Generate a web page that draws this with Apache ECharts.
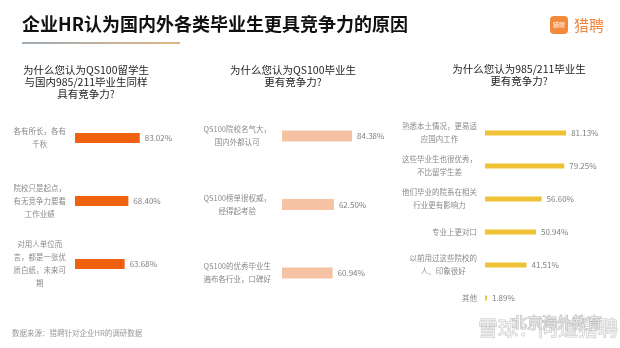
<!DOCTYPE html>
<html>
<head>
<meta charset="utf-8">
<script src="https://cdn.jsdelivr.net/npm/echarts@6/dist/echarts.min.js"></script>
<style>html,body{margin:0;padding:0;background:#fff}#c{width:620px;height:348px}</style>
</head>
<body>
<div id="c"></div>
<script>
const mainTitle = '企业HR认为国内外各类毕业生更具竞争力的原因';
const footNote = '数据来源：猎聘针对企业HR的调研数据';

const sub1 = '为什么您认为QS100留学生\n与国内985/211毕业生同样\n具有竞争力?';
const cats1 = ['各有所长，各有\n千秋', '院校只是起点，\n有无竞争力要看\n工作业绩', '对用人单位而\n言，都是一张优\n质白纸，未来可\n期'];
const vals1 = [83.02, 68.40, 63.68];

const sub2 = '为什么您认为QS100毕业生\n更有竞争力?';
const cats2 = ['QS100院校名气大，\n国内外都认可', 'QS100榜单很权威，\n经得起考验', 'QS100的优秀毕业生\n遍布各行业，口碑好'];
const vals2 = [84.38, 62.50, 60.94];

const sub3 = '为什么您认为985/211毕业生\n更有竞争力?';
const cats3 = ['熟悉本土情况，更易适\n应国内工作', '这些毕业生也很优秀，\n不比留学生差', '他们毕业的院系在相关\n行业更有影响力', '专业上更对口', '以前用过这些院校的\n人、印象很好', '其他'];
const vals3 = [81.13, 79.25, 56.60, 50.94, 41.51, 1.89];

const FONT = '"Noto Sans CJK SC", "Noto Sans", sans-serif';
const chart = echarts.init(document.getElementById('c'), null, {renderer: 'canvas'});

const panels = [
  {cats: cats1, vals: vals1, color: '#f0620f', grid: {left: 75, top: 106.5, width: 78, height: 189}, barWidth: 10, margin: 9},
  {cats: cats2, vals: vals2, color: '#f5c3a4', grid: {left: 282, top: 101.75, width: 83, height: 205.5}, barWidth: 11, margin: 11},
  {cats: cats3, vals: vals3, color: '#efc236', grid: {left: 485, top: 116.5, width: 100, height: 198}, barWidth: 5, margin: 8}
];

const labelFmt = v => v.split('\n').map(s => '{c|' + s + '}').join('\n');

const option = {
  animation: false,
  textStyle: {fontFamily: FONT},
  grid: panels.map(p => Object.assign({containLabel: false}, p.grid)),
  xAxis: panels.map((p, i) => ({type: 'value', gridIndex: i, min: 0, max: 100, show: false})),
  yAxis: panels.map((p, i) => ({
    type: 'category', gridIndex: i, data: p.cats, inverse: true,
    axisLine: {show: false}, axisTick: {show: false}, splitLine: {show: false},
    axisLabel: {
      interval: 0, margin: p.margin, align: 'right', formatter: labelFmt,
      rich: {c: {align: 'center', fontSize: 7.5, lineHeight: 13, color: '#8a8a8a', fontFamily: FONT}}
    }
  })),
  series: panels.map((p, i) => ({
    type: 'bar', xAxisIndex: i, yAxisIndex: i, data: p.vals, barWidth: p.barWidth,
    itemStyle: {color: p.color},
    label: {show: true, position: 'right', distance: 5, fontSize: 8, color: '#808080', fontFamily: FONT,
      formatter: q => q.value.toFixed(2) + '%'}
  })),
  graphic: [
    {type: 'text', x: 22, y: 24, style: {text: mainTitle, font: 'bold 18px ' + FONT, fill: '#111', textVerticalAlign: 'middle'}},
    {type: 'rect', shape: {x: 22, y: 42, width: 158, height: 2},
      style: {fill: new echarts.graphic.LinearGradient(0, 0, 1, 0, [{offset: 0, color: '#9eabb8'}, {offset: 1, color: '#e3b584'}])}},
    {type: 'rect', shape: {x: 550, y: 16, width: 18, height: 18, r: 4}, style: {fill: '#f28a3c'}},
    {type: 'text', x: 559, y: 25, style: {text: '猎聘', font: '6px ' + FONT, fill: '#fff', textAlign: 'center', textVerticalAlign: 'middle'}},
    {type: 'text', x: 574, y: 25, style: {text: '猎聘', font: '15px ' + FONT, fill: '#f0843a', textVerticalAlign: 'middle'}},
    {type: 'text', x: 86, y: 64, style: {text: sub1, font: '10.5px ' + FONT, fill: '#1e1e1e', textAlign: 'center', lineHeight: 12}},
    {type: 'text', x: 293, y: 64, style: {text: sub2, font: '10.5px ' + FONT, fill: '#1e1e1e', textAlign: 'center', lineHeight: 12}},
    {type: 'text', x: 519, y: 63, style: {text: sub3, font: '10.5px ' + FONT, fill: '#1e1e1e', textAlign: 'center', lineHeight: 12}},
    {type: 'text', x: 12, y: 333, style: {text: footNote, font: '7.5px ' + FONT, fill: '#999', textVerticalAlign: 'middle'}},
    {type: 'text', x: 478, y: 328, style: {text: '雪球：问道猎聘', font: '20px ' + FONT, fill: 'rgba(255,255,255,0.6)', stroke: '#c8c8c8', lineWidth: 1, textVerticalAlign: 'middle'}},
    {type: 'text', x: 512, y: 322, style: {text: '北京海外教育', font: '15px ' + FONT, fill: 'rgba(255,255,255,0.6)', stroke: '#b8b8b8', lineWidth: 1, textVerticalAlign: 'middle'}}
  ]
};
chart.setOption(option);
</script>
</body>
</html>
